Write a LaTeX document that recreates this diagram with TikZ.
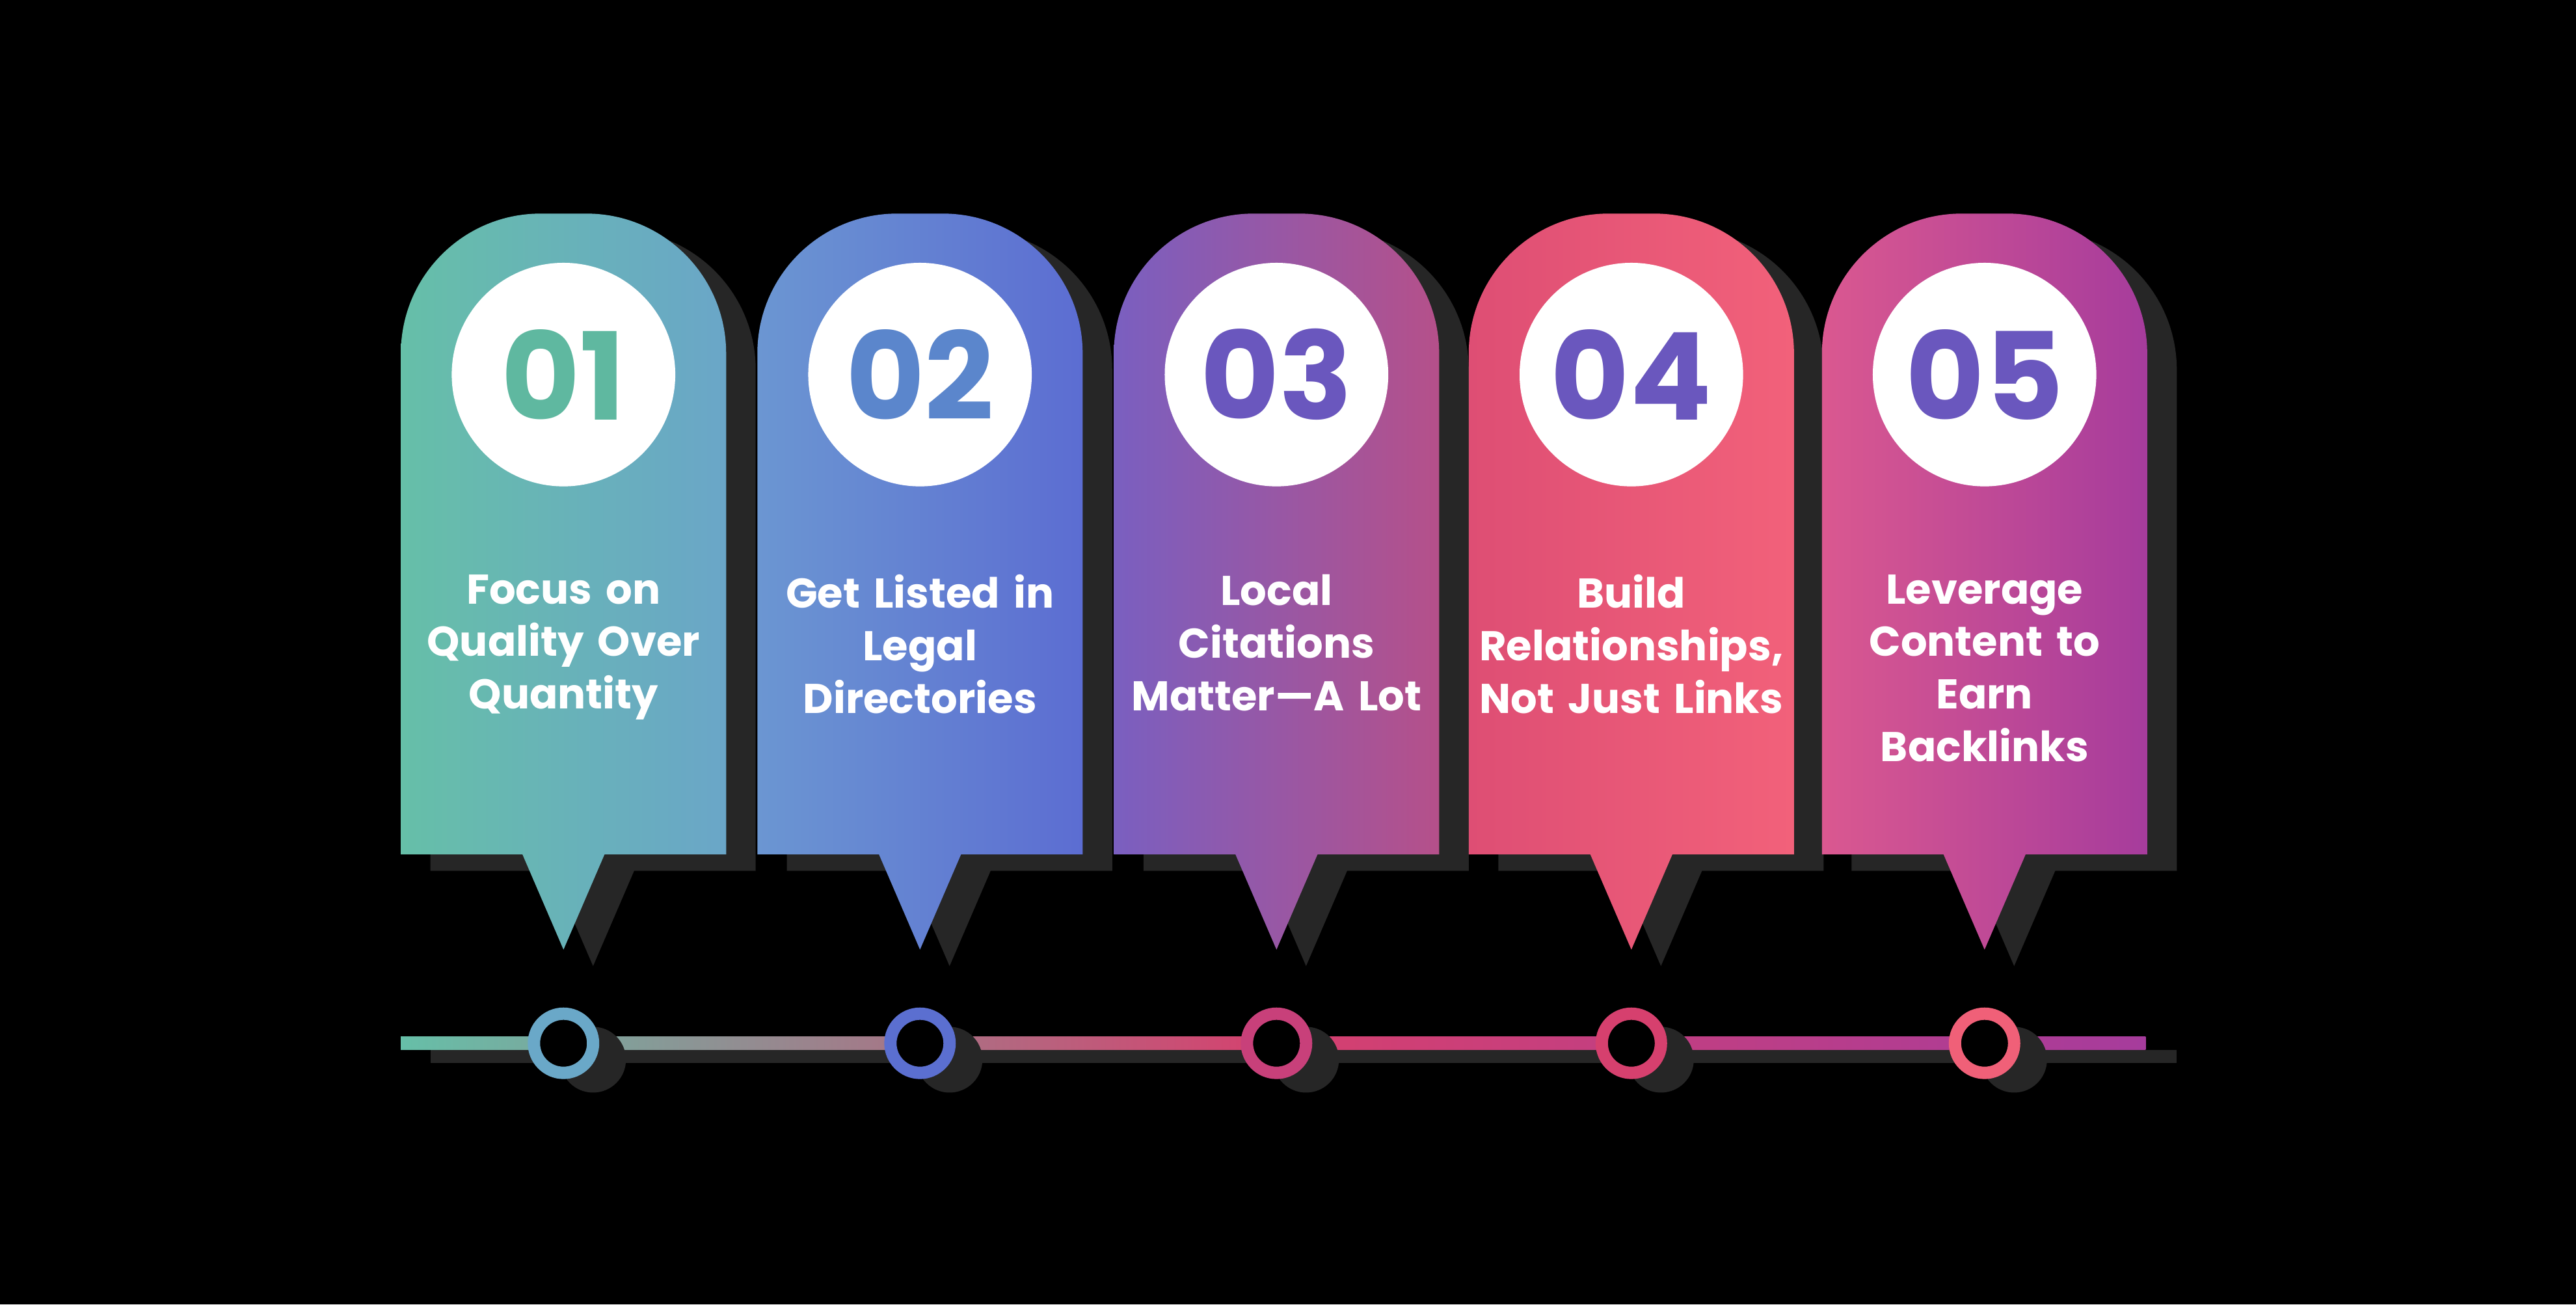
\documentclass[tikz,border=0pt]{standalone}
\usepackage{fontspec}
\setmainfont{Poppins}
\usetikzlibrary{positioning,calc}
\definecolor{shadowgray}{HTML}{262626}
\definecolor{numteal}{HTML}{5FB8A0}
\definecolor{numblue}{HTML}{5B86CC}
\definecolor{numpurple}{HTML}{6A57BE}
\definecolor{ca}{HTML}{66BFA8}\definecolor{cb}{HTML}{6AA6C8}
\definecolor{cc}{HTML}{6B96D2}\definecolor{cd}{HTML}{5C6DD2}
\definecolor{ce}{HTML}{7A5FC0}\definecolor{cf}{HTML}{B5508A}
\definecolor{cg}{HTML}{DE4E74}\definecolor{ch}{HTML}{F2617A}
\definecolor{ci}{HTML}{DA5890}\definecolor{cj}{HTML}{A63C9C}
\definecolor{ringa}{HTML}{6AA8C8}\definecolor{ringb}{HTML}{5B6FD0}
\definecolor{ringc}{HTML}{C8407A}\definecolor{ringd}{HTML}{D6406E}
\definecolor{ringe}{HTML}{F06078}
\newcommand{\cardpath}[1]{%
  (#1-99,520) [rounded corners=0.85cm] -- (#1-99,130) -- (#1+99,130)
  [sharp corners] -- (#1+99,520) -- (#1+25,520) -- (#1,578) -- (#1-25,520) -- cycle}
\begin{document}
\begin{tikzpicture}[x=0.01cm,y=-0.01cm,
    numcircle/.style={circle, fill=white, minimum size=1.36cm, inner sep=0pt,
      font=\fontsize{21}{21}\selectfont\bfseries},
    cardtext/.style={text=white, align=center, text width=1.9cm, anchor=north,
      font=\fontsize{7.2}{9.1}\selectfont\bfseries, inner sep=0pt},
    ring/.style={circle, draw=#1, line width=0.075cm, fill=black,
      minimum size=0.36cm, inner sep=0pt}]
  \fill[black] (0,0) rectangle (1568,794);
  % timeline
  \fill[shadowgray] (262,639) rectangle (1325,647);
  \shade[left color=ca, right color=cj, middle color=ringd] (244,631) rectangle (1306,639);
  \foreach \x/\la/\lb/\num/\nc/\rc/\txt in {
      343/ca/cb/01/numteal/ringa/{Focus on\\Quality Over\\Quantity},
      560/cc/cd/02/numblue/ringb/{Get Listed in\\Legal\\Directories},
      777/ce/cf/03/numpurple/ringc/{Local\\Citations\\Matter—A Lot},
      993/cg/ch/04/numpurple/ringd/{Build\\Relationships,\\Not Just Links},
      1208/ci/cj/05/numpurple/ringe/{Leverage\\Content to\\Earn\\Backlinks}} {
    \begin{scope}[shift={(18,10)}]
      \fill[shadowgray] \cardpath{\x};
      \fill[shadowgray] (\x,635) circle (0.2cm);
    \end{scope}
    \shade[left color=\la, right color=\lb] \cardpath{\x};
    \node[numcircle, text=\nc] (n\num) at (\x,228) {\num};
    \node[cardtext] (t\num) at (\x,349) {\txt};
    \node[ring=\rc] (r\num) at (\x,635) {};
  }
\end{tikzpicture}
\end{document}
